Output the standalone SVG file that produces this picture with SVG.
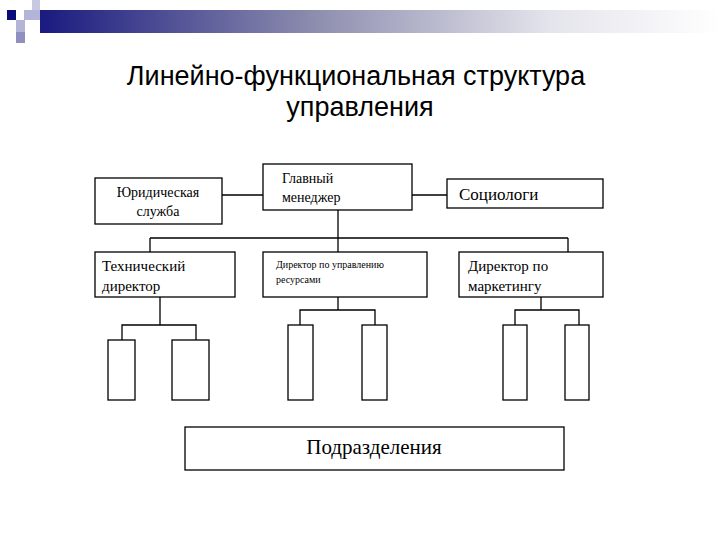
<svg xmlns="http://www.w3.org/2000/svg" width="720" height="540" viewBox="0 0 720 540">
<defs>
<linearGradient id="g" x1="0" x2="1" y1="0" y2="0">
<stop offset="0" stop-color="#1a1a80"/><stop offset="0.4" stop-color="#8c8cae"/><stop offset="0.75" stop-color="#e4e4ec"/><stop offset="1" stop-color="#ffffff"/>
</linearGradient>
<style>
.b{fill:#fff;stroke:#000;stroke-width:1.3}
.l{fill:none;stroke:#000;stroke-width:1.3}
.t{font-family:"Liberation Serif",serif;fill:#000}
</style>
</defs>
<rect width="720" height="540" fill="#fff"/>
<rect x="40" y="10" width="680" height="23" fill="url(#g)"/>
<rect x="7" y="10" width="9" height="10" fill="#0a0a78"/>
<rect x="32" y="0" width="8" height="10" fill="#c8c8e0"/>
<rect x="24" y="10" width="16" height="10" fill="#b4b4d8"/>
<rect x="16" y="20" width="9" height="12" fill="#b4b4d8"/>
<rect x="16" y="32" width="9" height="11" fill="#9090c0"/>
<text x="356" y="85" text-anchor="middle" font-family="Liberation Sans,sans-serif" font-size="27">Линейно-функциональная структура</text>
<text x="360" y="116" text-anchor="middle" font-family="Liberation Sans,sans-serif" font-size="27">управления</text>
<g id="connectors">
<path class="l" d="M222 195H263M412 195H447M338 210V238M150 238H568M150 238V252M338 238V252M568 238V252"/>
<path class="l" d="M160 297V325M122 340V325H196V340"/>
<path class="l" d="M338 297V310M300 325V310H375V325"/>
<path class="l" d="M541 297V310M515 325V310H579V325"/>
</g>
<g id="n1"><rect class="b" x="95" y="178" width="127" height="46"/><text class="t" x="158" y="197" text-anchor="middle" font-size="14">Юридическая</text><text class="t" x="158" y="216" text-anchor="middle" font-size="14">служба</text></g>
<g id="n2"><rect class="b" x="263" y="164" width="149" height="46"/><text class="t" x="282" y="183" font-size="14">Главный</text><text class="t" x="282" y="202" font-size="14">менеджер</text></g>
<g id="n3"><rect class="b" x="447" y="179" width="156" height="29"/><text class="t" x="459" y="200" font-size="17">Социологи</text></g>
<g id="n4"><rect class="b" x="95" y="252" width="140" height="45"/><text class="t" x="102" y="271" font-size="15">Технический</text><text class="t" x="102" y="291" font-size="15">директор</text></g>
<g id="n5"><rect class="b" x="263" y="252" width="164" height="45"/><text class="t" x="276" y="268" font-size="10">Директор по управлению</text><text class="t" x="276" y="283" font-size="10">ресурсами</text></g>
<g id="n6"><rect class="b" x="459" y="252" width="144" height="45"/><text class="t" x="468" y="271" font-size="15">Директор по</text><text class="t" x="468" y="291" font-size="15">маркетингу</text></g>
<g id="s1"><rect class="b" x="108" y="340" width="27" height="60"/></g>
<g id="s2"><rect class="b" x="172" y="340" width="37" height="60"/></g>
<g id="s3"><rect class="b" x="288" y="325" width="25" height="75"/></g>
<g id="s4"><rect class="b" x="362" y="325" width="25" height="75"/></g>
<g id="s5"><rect class="b" x="503" y="325" width="24" height="75"/></g>
<g id="s6"><rect class="b" x="565" y="325" width="24" height="75"/></g>
<g id="n7"><rect class="b" x="185" y="427" width="379" height="43"/><text class="t" x="374" y="454" text-anchor="middle" font-size="21">Подразделения</text></g>
</svg>
